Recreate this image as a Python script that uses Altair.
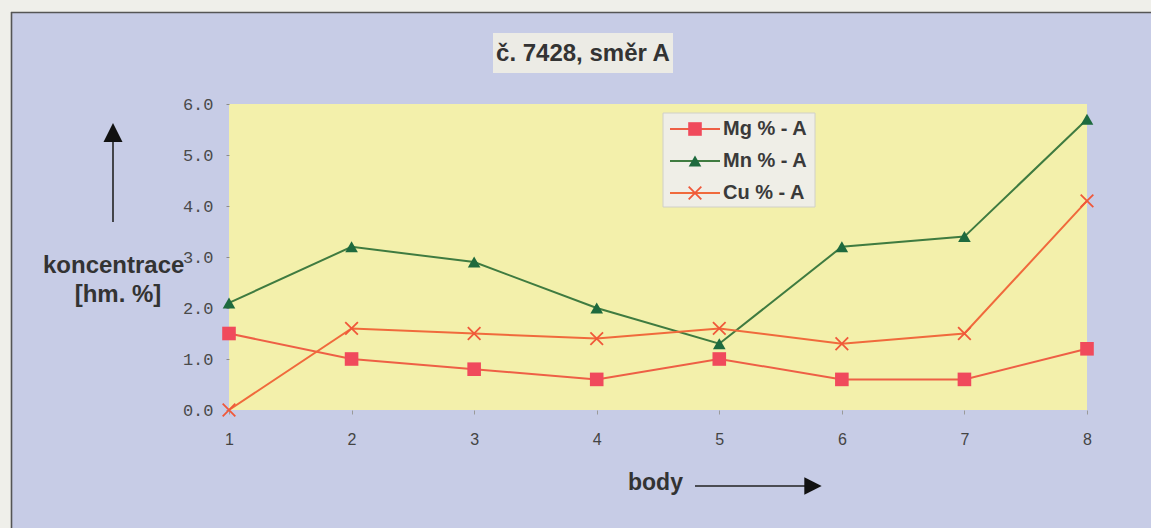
import altair as alt
import pandas as pd

# Measured concentrations along the sample, direction A
points = [1, 2, 3, 4, 5, 6, 7, 8]
mg = [1.5, 1.0, 0.8, 0.6, 1.0, 0.6, 0.6, 1.2]
mn = [2.1, 3.2, 2.9, 2.0, 1.3, 3.2, 3.4, 5.7]
cu = [0.0, 1.6, 1.5, 1.4, 1.6, 1.3, 1.5, 4.1]
series_names = ["Mg % - A", "Mn % - A", "Cu % - A"]
y_ticks = [0, 1, 2, 3, 4, 5, 6]

# plot area geometry (pixels)
W, H = 858, 306
PL, PT, PR, PB = 229, 104, 64, 118

BLUE = "#c7cce6"
PAGE = "#efefea"
SANS = "Liberation Sans"
MONO = "Liberation Mono"
X_PATH = "M-1,-1L1,1M-1,1L1,-1"

styles = [
    # line colour, marker colour, shape, size, filled
    ("#ee5f45", "#f04a5c", "square", 185, True),
    ("#3f7b40", "#1e6a3e", "triangle-up", 160, True),
    ("#f06a3c", "#f0583a", X_PATH, 160, False),
]

x_enc = alt.X(
    "bod:Q",
    scale=alt.Scale(domain=[1, 8], nice=False, zero=False),
    axis=alt.Axis(values=points, format="d", title=None, grid=False, domain=False,
                  tickSize=4, tickColor="#9a9a9a", labelPadding=17, labelFlush=False,
                  labelFont=SANS, labelFontSize=16, labelColor="#444444"),
)
y_enc = alt.Y(
    "val:Q",
    scale=alt.Scale(domain=[0, 6], nice=False),
    axis=alt.Axis(values=y_ticks, format=".1f", title=None, grid=False, domain=False,
                  tickSize=3, tickColor="#8a8a8a", labelPadding=13, labelFlush=False,
                  labelFont=MONO, labelFontSize=17, labelColor="#4a4a4a"),
)

layers = []
for name, vals, (lc, mc, shape, size, filled) in zip(series_names, [mg, mn, cu], styles):
    df = pd.DataFrame({"bod": points, "val": vals, "serie": name})
    base = alt.Chart(df).encode(x=x_enc, y=y_enc)
    layers.append(base.mark_line(color=lc, strokeWidth=2))
    if filled:
        layers.append(base.mark_point(shape=shape, size=size, filled=True, color=mc, opacity=1))
    else:
        layers.append(base.mark_point(shape=shape, size=size, filled=False, color=mc,
                                      strokeWidth=1.8, opacity=1))

one = pd.DataFrame({"k": [0]})


def px(v):
    return alt.value(v - PL)


def py(v):
    return alt.value(v - PT)


def rect(x1, x2, y1, y2, **kw):
    return alt.Chart(one).mark_rect(**kw).encode(x=px(x1), x2=px(x2), y=py(y1), y2=py(y2))


def rule(x1, x2, y1, y2, **kw):
    return alt.Chart(one).mark_rule(**kw).encode(x=px(x1), x2=px(x2), y=py(y1), y2=py(y2))


def label(txt, x, y, **kw):
    return alt.Chart(pd.DataFrame({"t": [txt]})).mark_text(**kw).encode(
        x=px(x), y=py(y), text="t:N")


def symbol(shape, x, y, size, **kw):
    return alt.Chart(one).mark_point(shape=shape, size=size, opacity=1, **kw).encode(
        x=px(x), y=py(y))


deco = [
    # page strips outside the frame and the frame lines
    rect(0, 11, 0, 528, color=PAGE),
    rect(0, 1151, 0, 12, color=PAGE),
    rule(11.5, 11.5, 12, 528, color="#555555", strokeWidth=1.6),
    rule(11, 1151, 12.5, 12.5, color="#555555", strokeWidth=1.6),
    # chart title
    rect(493, 673, 33, 73, color="#ecebe5"),
    label("č. 7428, směr A", 583, 54, font=SANS, fontSize=24, fontWeight="bold",
          color="#333333", align="center", baseline="middle"),
    # y axis title and arrow
    label("koncentrace", 43, 273, font=SANS, fontSize=24, fontWeight="bold",
          color="#333333", align="left", baseline="alphabetic"),
    label("[hm. %]", 118, 302, font=SANS, fontSize=24, fontWeight="bold",
          color="#333333", align="center", baseline="alphabetic"),
    rule(113, 113, 140, 222, color="#222222", strokeWidth=1.6),
    symbol("M0,-1L1,1L-1,1Z", 113, 132.5, 361, filled=True, color="#111111"),
    # x axis title and arrow
    label("body", 628, 490, font=SANS, fontSize=23, fontWeight="bold",
          color="#333333", align="left", baseline="alphabetic"),
    rule(695, 806, 486, 486, color="#222222", strokeWidth=1.6),
    symbol("M1,0L-1,-1L-1,1Z", 813, 486, 300, filled=True, color="#111111"),
    # legend box
    rect(663, 815, 113, 207, color="#efeee7", stroke="#d0d0c8", strokeWidth=1),
]

leg_y = [129, 161, 193]
for name, yy, (lc, mc, shape, size, filled) in zip(series_names, leg_y, styles):
    deco.append(rule(670, 720, yy, yy, color=lc, strokeWidth=2))
    if filled:
        deco.append(symbol(shape, 695, yy, size, filled=True, color=mc))
    else:
        deco.append(symbol(shape, 695, yy, size, filled=False, color=mc, strokeWidth=1.8))
    deco.append(label(name, 723, yy, font=SANS, fontSize=20, fontWeight="bold",
                      color="#3a3a3a", align="left", baseline="middle"))

chart = (
    alt.layer(*deco, *layers)
    .properties(
        width=W,
        height=H,
        background=BLUE,
        padding={"left": PL, "top": PT, "right": PR, "bottom": PB},
        autosize=alt.AutoSizeParams(type="none"),
    )
    .configure_view(fill="#f3f0ab", stroke=None)
)

chart.save("out.html", embed_options={"renderer": "svg", "actions": False})
